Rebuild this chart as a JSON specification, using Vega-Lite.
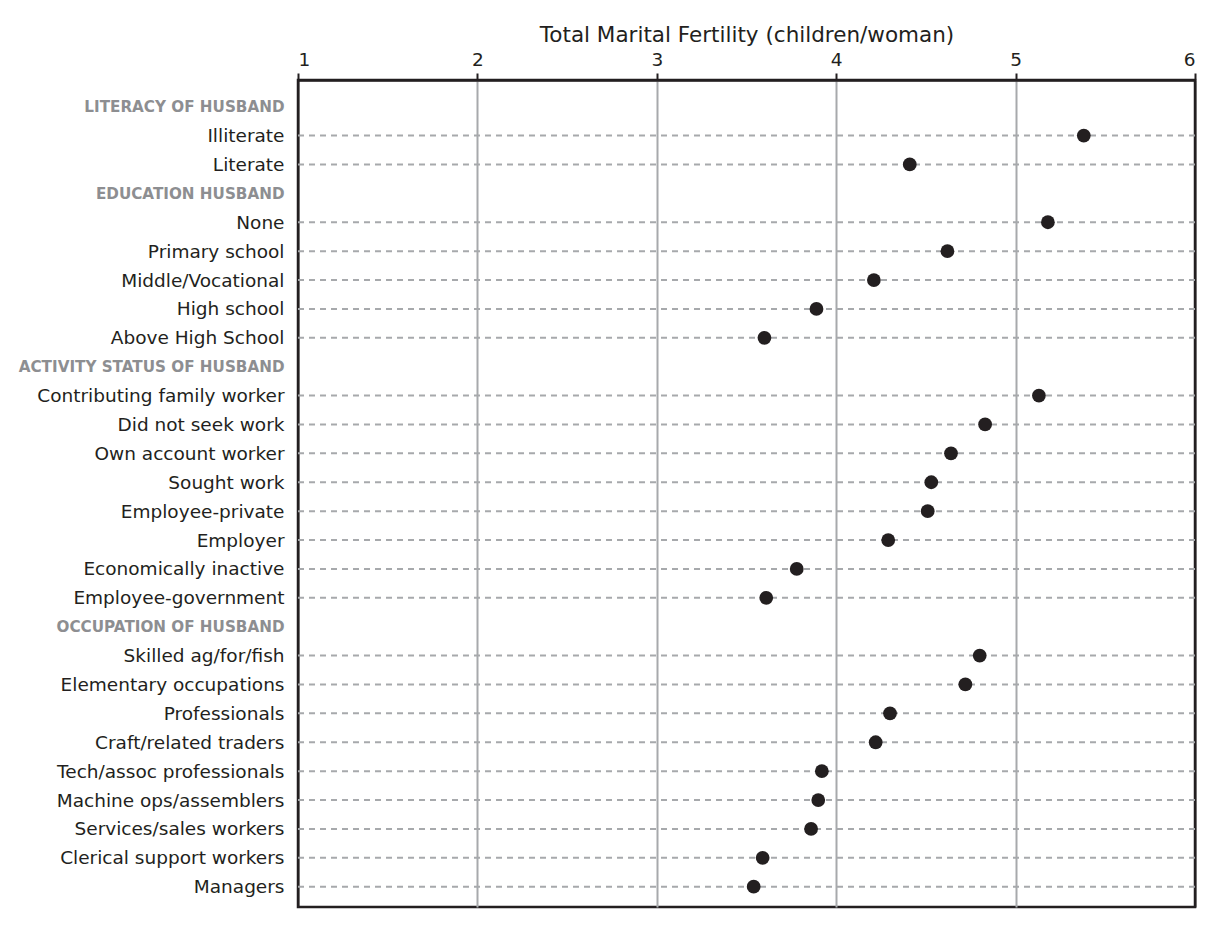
{
  "$schema": "https://vega.github.io/schema/vega-lite/v6.json",
  "width": 897,
  "height": 827,
  "autosize": {"type": "none"},
  "padding": {"left": 298, "top": 80, "right": 12, "bottom": 26},
  "background": "white",
  "config": {
    "view": {"stroke": "#231f20", "strokeWidth": 2.5},
    "font": "DejaVu Sans"
  },
  "data": {
    "values": [
      {"label": "LITERACY OF HUSBAND", "tmf": null},
      {"label": "Illiterate", "tmf": 5.38},
      {"label": "Literate", "tmf": 4.41},
      {"label": "EDUCATION HUSBAND", "tmf": null},
      {"label": "None", "tmf": 5.18},
      {"label": "Primary school", "tmf": 4.62},
      {"label": "Middle/Vocational", "tmf": 4.21},
      {"label": "High school", "tmf": 3.89},
      {"label": "Above High School", "tmf": 3.6},
      {"label": "ACTIVITY STATUS OF HUSBAND", "tmf": null},
      {"label": "Contributing family worker", "tmf": 5.13},
      {"label": "Did not seek work", "tmf": 4.83},
      {"label": "Own account worker", "tmf": 4.64},
      {"label": "Sought work", "tmf": 4.53},
      {"label": "Employee-private", "tmf": 4.51},
      {"label": "Employer", "tmf": 4.29},
      {"label": "Economically inactive", "tmf": 3.78},
      {"label": "Employee-government", "tmf": 3.61},
      {"label": "OCCUPATION OF HUSBAND", "tmf": null},
      {"label": "Skilled ag/for/fish", "tmf": 4.8},
      {"label": "Elementary occupations", "tmf": 4.72},
      {"label": "Professionals", "tmf": 4.3},
      {"label": "Craft/related traders", "tmf": 4.22},
      {"label": "Tech/assoc professionals", "tmf": 3.92},
      {"label": "Machine ops/assemblers", "tmf": 3.9},
      {"label": "Services/sales workers", "tmf": 3.86},
      {"label": "Clerical support workers", "tmf": 3.59},
      {"label": "Managers", "tmf": 3.54}
    ]
  },
  "encoding": {
    "y": {
      "field": "label",
      "type": "nominal",
      "sort": null,
      "scale": {
        "type": "point",
        "padding": 0.813,
        "align": 0.568,
        "round": false,
        "domain": [
          "LITERACY OF HUSBAND", "Illiterate", "Literate",
          "EDUCATION HUSBAND", "None", "Primary school", "Middle/Vocational", "High school", "Above High School",
          "ACTIVITY STATUS OF HUSBAND", "Contributing family worker", "Did not seek work", "Own account worker", "Sought work", "Employee-private", "Employer", "Economically inactive", "Employee-government",
          "OCCUPATION OF HUSBAND", "Skilled ag/for/fish", "Elementary occupations", "Professionals", "Craft/related traders", "Tech/assoc professionals", "Machine ops/assemblers", "Services/sales workers", "Clerical support workers", "Managers"
        ]
      },
      "axis": {
        "title": null,
        "ticks": false,
        "domain": false,
        "grid": false,
        "labelPadding": 14,
        "labelLimit": 400,
        "labelFont": "DejaVu Sans",
        "labelFontSize": {"condition": {"test": "upper(datum.value) === datum.value", "value": 15.2}, "value": 18.5},
        "labelFontWeight": {"condition": {"test": "upper(datum.value) === datum.value", "value": "bold"}, "value": "normal"},
        "labelColor": {"condition": {"test": "upper(datum.value) === datum.value", "value": "#8d8e91"}, "value": "#231f20"}
      }
    }
  },
  "layer": [
    {
      "transform": [{"filter": "datum.tmf != null"}],
      "mark": {"type": "rule", "color": "#a7a9ac", "strokeWidth": 2, "strokeDash": [6, 5]},
      "encoding": {}
    },
    {
      "transform": [{"filter": "datum.tmf != null"}],
      "mark": {"type": "circle", "size": 190, "color": "#231f20", "opacity": 1},
      "encoding": {
        "x": {
          "field": "tmf",
          "type": "quantitative",
          "scale": {"domain": [1, 6], "nice": false, "zero": false},
          "axis": {
            "orient": "top",
            "values": [1, 2, 3, 4, 5, 6],
            "format": "d",
            "title": "Total Marital Fertility (children/woman)",
            "titleFont": "DejaVu Sans",
            "titleFontSize": 21.5,
            "titleFontWeight": "normal",
            "titleColor": "#231f20",
            "titlePadding": 4,
            "labelFont": "DejaVu Sans",
            "labelFontSize": 18.5,
            "labelColor": "#231f20",
            "labelPadding": 4,
            "tickColor": "#231f20",
            "tickSize": 7,
            "tickWidth": 2,
            "domainColor": "#231f20",
            "domainWidth": 2.5,
            "grid": true,
            "gridWidth": 2,
            "gridColor": {"condition": {"test": "datum.value == 1 || datum.value == 6", "value": "#231f20"}, "value": "#a7a9ac"}
          }
        }
      }
    }
  ]
}
